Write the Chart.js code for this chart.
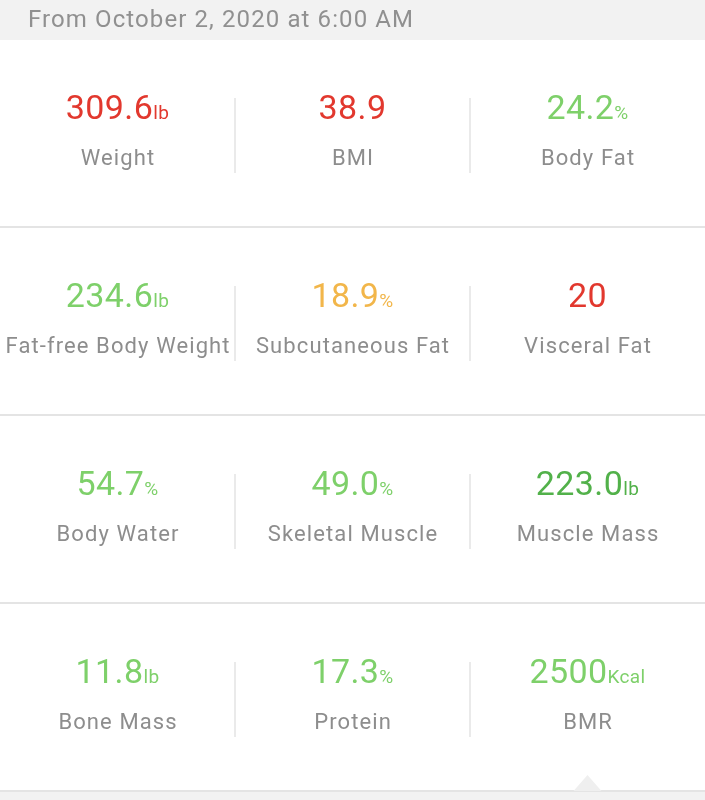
<!DOCTYPE html>
<html>
<head>
<meta charset="utf-8">
<script src="https://cdn.jsdelivr.net/npm/chart.js@4.4.1/dist/chart.umd.min.js"></script>
<style>
html, body { margin:0; padding:0; background:#f2f2f2; }
#wrap { width:705px; height:800px; position:relative; }
</style>
</head>
<body>
<div id="wrap"><canvas id="bodyChart"></canvas></div>
<script>
const headerText = "From October 2, 2020 at 6:00 AM";

const metricNames = ["Weight", "BMI", "Body Fat",
  "Fat-free Body Weight", "Subcutaneous Fat", "Visceral Fat",
  "Body Water", "Skeletal Muscle", "Muscle Mass",
  "Bone Mass", "Protein", "BMR"];
const metricValues = [309.6, 38.9, 24.2, 234.6, 18.9, 20, 54.7, 49.0, 223.0, 11.8, 17.3, 2500];
const metricDecimals = [1, 1, 1, 1, 1, 0, 1, 1, 1, 1, 1, 0];
const metricUnits = ["lb", "", "%", "lb", "%", "", "%", "%", "lb", "lb", "%", "Kcal"];
const metricStatus = ["high", "high", "normal", "normal", "warn", "high",
  "normal", "normal", "good", "normal", "normal", "normal"];

const statusColor = { high:"#e2382e", normal:"#7ed06a", warn:"#f2b64a", good:"#52b14a" };
const COLS = 3;
const ROWS = Math.ceil(metricNames.length / COLS);

const cells = metricNames.map((n, i) => ({ x: i % COLS, y: Math.floor(i / COLS) }));

const FONT = "Roboto, 'Noto Sans', sans-serif";

function setSpacing(ctx, px){
  if("letterSpacing" in ctx) ctx.letterSpacing = px + "px";
}

/* backgrounds, row separators, column dividers */
const panelPlugin = {
  id: "panels",
  beforeDraw(chart){
    const ctx = chart.ctx, xs = chart.scales.x, ys = chart.scales.y;
    ctx.save();
    ctx.fillStyle = "#f2f2f2";
    ctx.fillRect(0, 0, chart.width, chart.height);

    for(let r = 0; r < ROWS; r++){
      let top = ys.getPixelForValue(r - 0.5);
      let bot = ys.getPixelForValue(r + 0.5);
      ctx.fillStyle = "#ffffff";
      ctx.fillRect(0, top, chart.width, bot - top);
      // separator under each row
      ctx.fillStyle = "#e4e4e4";
      ctx.fillRect(0, bot - 2, chart.width, 2);

      // column dividers
      ctx.strokeStyle = "#e3e3e3";
      ctx.lineWidth = 1.5;
      for(let c = 0; c < COLS - 1; c++){
        let px = xs.getPixelForValue(c + 0.5);
        let cy = ys.getPixelForValue(r);
        ctx.beginPath();
        ctx.moveTo(px, cy - 36);
        ctx.lineTo(px, cy + 39);
        ctx.stroke();
      }
    }

    // little pointer under the last column
    let lastBot = ys.getPixelForValue(ROWS - 0.5);
    let tx = xs.getPixelForValue(COLS - 1);
    ctx.fillStyle = "#efefef";
    ctx.beginPath();
    ctx.moveTo(tx - 14, lastBot - 1);
    ctx.lineTo(tx, lastBot - 17);
    ctx.lineTo(tx + 14, lastBot - 1);
    ctx.closePath();
    ctx.fill();

    // header date
    ctx.fillStyle = "#909090";
    ctx.font = "24px " + FONT;
    setSpacing(ctx, 1.1);
    ctx.textBaseline = "alphabetic";
    ctx.textAlign = "left";
    ctx.fillText(headerText, 28, 27);
    ctx.restore();
  }
};

/* value + unit + name at each cell point */
const labelPlugin = {
  id: "cellLabels",
  afterDatasetsDraw(chart){
    const ctx = chart.ctx;
    const meta = chart.getDatasetMeta(0);
    ctx.save();
    ctx.textBaseline = "alphabetic";
    meta.data.forEach((pt, i) => {
      let valTxt = metricValues[i].toFixed(metricDecimals[i]);
      let unit = metricUnits[i];
      setSpacing(ctx, 0.4);
      ctx.font = "34px " + FONT;
      let vw = ctx.measureText(valTxt).width;
      ctx.font = "19px " + FONT;
      let uw = unit ? ctx.measureText(unit).width : 0;
      let start = pt.x - (vw + uw) / 2;

      ctx.fillStyle = statusColor[metricStatus[i]];
      ctx.textAlign = "left";
      ctx.font = "34px " + FONT;
      ctx.fillText(valTxt, start, pt.y - 15);
      if(unit){
        ctx.font = "19px " + FONT;
        ctx.fillText(unit, start + vw, pt.y - 15);
      }

      ctx.fillStyle = "#8d8d8d";
      ctx.font = "22px " + FONT;
      setSpacing(ctx, 1.1);
      ctx.textAlign = "left";
      let nw = ctx.measureText(metricNames[i]).width - 1.1;
      ctx.fillText(metricNames[i], pt.x - nw / 2, pt.y + 31);
    });
    ctx.restore();
  }
};

new Chart(document.getElementById("bodyChart"), {
  type: "scatter",
  data: {
    datasets: [{
      label: "metrics",
      data: cells,
      pointRadius: 0,
      pointHoverRadius: 0
    }]
  },
  options: {
    responsive: true,
    maintainAspectRatio: false,
    animation: false,
    layout: { padding: 0 },
    plugins: { legend: { display: false }, tooltip: { enabled: false } },
    scales: {
      x: { display: false, min: -0.5, max: COLS - 0.5 },
      y: { display: false, reverse: true, min: -0.7128, max: 3.5425 }
    }
  },
  plugins: [panelPlugin, labelPlugin]
});
</script>
</body>
</html>
